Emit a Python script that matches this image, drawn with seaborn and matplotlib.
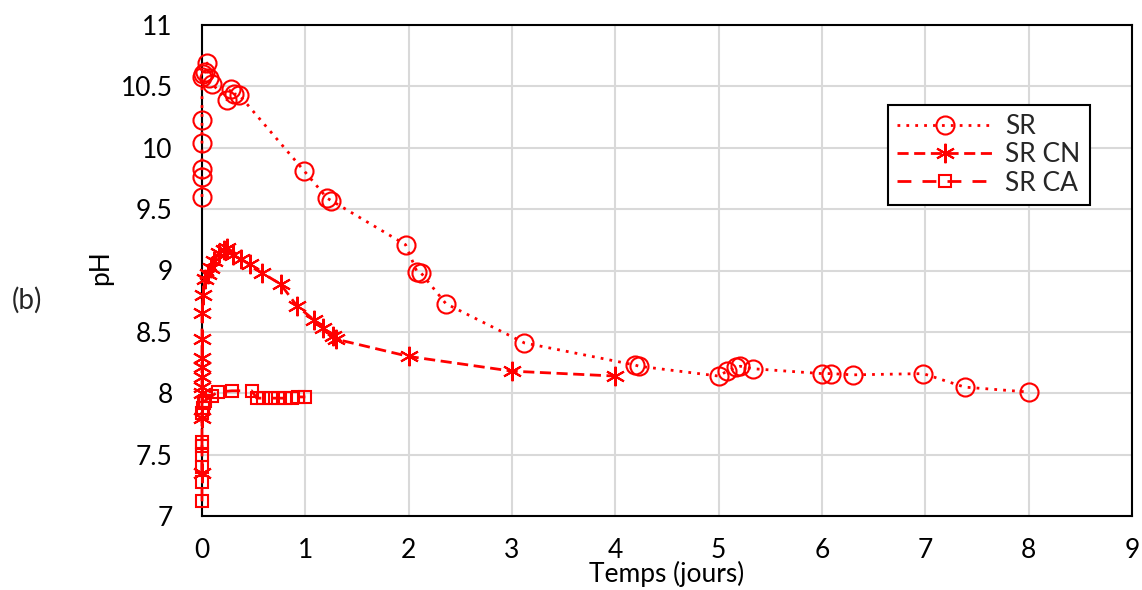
import matplotlib
matplotlib.use("Agg")
import matplotlib.pyplot as plt
import seaborn as sns
import pandas as pd

# ---- data ----
sr_x = [0, 0, 0, 0, 0, 0, 0.01, 0.03, 0.05, 0.07, 0.10, 0.24, 0.28, 0.31, 0.36,
        0.99, 1.21, 1.25, 1.97, 2.08, 2.12, 2.36, 3.12, 4.19, 4.23, 5.00, 5.08,
        5.17, 5.21, 5.33, 6.00, 6.09, 6.30, 6.98, 7.38, 8.00]
sr_y = [9.60, 9.76, 9.83, 10.04, 10.23, 10.58, 10.60, 10.62, 10.69, 10.57, 10.52,
        10.39, 10.48, 10.44, 10.43, 9.81, 9.59, 9.57, 9.21, 8.99, 8.98, 8.73,
        8.41, 8.23, 8.22, 8.14, 8.18, 8.21, 8.22, 8.20, 8.16, 8.16, 8.15, 8.16,
        8.05, 8.01]

cn_x = [0, 0, 0, 0, 0, 0, 0, 0, 0, 0.01, 0.03, 0.06, 0.09, 0.12, 0.16, 0.21, 0.24,
        0.30, 0.38, 0.46, 0.58, 0.76, 0.92, 1.08, 1.17, 1.27, 1.30, 2.00, 3.00, 4.00]
cn_y = [7.35, 7.80, 8.00, 8.05, 8.13, 8.21, 8.29, 8.44, 8.65, 8.80, 8.93, 8.97,
        9.02, 9.08, 9.14, 9.17, 9.18, 9.13, 9.09, 9.05, 8.98, 8.89, 8.71, 8.60,
        8.53, 8.47, 8.44, 8.30, 8.18, 8.14]

ca_x = [0, 0, 0, 0, 0, 0, 0, 0.01, 0.02, 0.03, 0.10, 0.15, 0.29, 0.48, 0.53, 0.59,
        0.67, 0.74, 0.80, 0.87, 0.93, 1.00]
ca_y = [7.12, 7.28, 7.40, 7.50, 7.57, 7.60, 7.84, 7.88, 7.92, 7.94, 7.98, 8.01,
        8.02, 8.02, 7.96, 7.96, 7.96, 7.96, 7.96, 7.96, 7.97, 7.97]

labels = ["SR", "SR CN", "SR CA"]
x_ticks = list(range(0, 10))
y_ticks = [7, 7.5, 8, 8.5, 9, 9.5, 10, 10.5, 11]
y_tick_labels = ["7", "7.5", "8", "8.5", "9", "9.5", "10", "10.5", "11"]

# ---- style ----
sns.set_theme(style="whitegrid")
plt.rcParams["font.family"] = ["Lato", "DejaVu Sans"]

fig = plt.figure(figsize=(11.42, 5.90), dpi=100)
ax = fig.add_axes([202 / 1142, 1 - 516 / 590, 930 / 1142, 491 / 590])

red = "#FF0000"
series = [
    (sr_x, sr_y, labels[0], "o", 13, (0, (1, 2.2))),
    (cn_x, cn_y, labels[1], (6, 2, 0), 14, (0, (4, 2))),
    (ca_x, ca_y, labels[2], "s", 9, (0, (5, 4))),
]
for xs, ys, lab, mk, ms, ls in series:
    df = pd.DataFrame({"x": xs, "y": ys})
    sns.lineplot(data=df, x="x", y="y", ax=ax, estimator=None, sort=False,
                 color=red, linewidth=2, linestyle=ls, marker=mk,
                 markersize=ms, markerfacecolor="none", markeredgecolor=red,
                 markeredgewidth=1.5, label=lab, clip_on=False, zorder=3)

ax.set_xlim(0, 9)
ax.set_ylim(7, 11)
ax.set_xticks(x_ticks)
ax.set_xticklabels([str(t) for t in x_ticks])
ax.set_yticks(y_ticks)
ax.set_yticklabels(y_tick_labels)
ax.tick_params(axis="both", length=0, labelsize=19, colors="black")
ax.tick_params(axis="x", pad=16)
ax.tick_params(axis="y", pad=21)
ax.grid(True, color="#D9D9D9", linewidth=1.5)
for sp in ax.spines.values():
    sp.set_visible(True)
    sp.set_color("black")
    sp.set_linewidth(1.5)

ax.set_xlabel("Temps (jours)", fontsize=19, color="black")
ax.xaxis.set_label_coords(0.5, -0.092)
ax.set_ylabel("pH", fontsize=19, color="black")
ax.yaxis.set_label_coords(-0.096, 0.505)
fig.text(27 / 1142, 1 - 300 / 590, "(b)", fontsize=20, ha="center", va="center")

leg = ax.legend(loc="upper left", bbox_to_anchor=((888 - 202) / 930, (516 - 105) / 491),
                borderaxespad=0, fontsize=19, frameon=True, fancybox=False,
                framealpha=1, edgecolor="black", handlelength=3.6, borderpad=0.35,
                labelspacing=0.12, handletextpad=0.5)
leg.get_frame().set_linewidth(1.5)
leg.set_zorder(5)

fig.savefig("out.png", dpi=100)
